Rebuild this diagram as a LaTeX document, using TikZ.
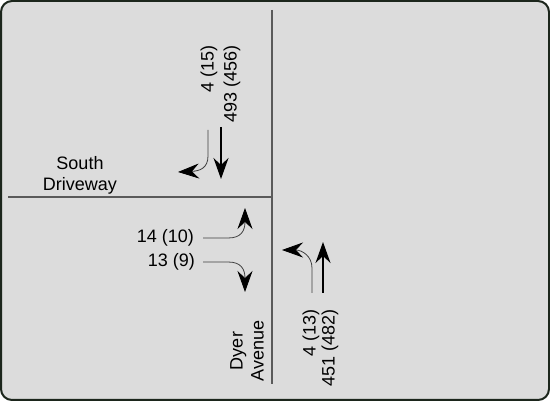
\documentclass[tikz,border=0pt]{standalone}
\usepackage{fontspec}
\setmainfont{Liberation Sans}
\usetikzlibrary{arrows.meta}
\definecolor{bgc}{HTML}{DCDCDC}
\definecolor{framec}{HTML}{1C261C}
\definecolor{roadc}{HTML}{5A5A5A}
\tikzset{
  road/.style={draw=roadc, line width=1.4pt},
  tiphead/.style={-{Stealth[length=21pt,width=15pt,inset=7pt,color=black,fill=black]}},
  thru/.style={draw=black, line width=1.2pt, tiphead},
  turnarr/.style={draw=black!75, line width=0.8pt, tiphead},
  lbl/.style={inner sep=0pt, font=\fontsize{18}{21}\selectfont},
}
\begin{document}
\begin{tikzpicture}[x=1pt,y=-1pt]
\useasboundingbox (0,0) rectangle (550,401);
\draw[fill=bgc, draw=framec, line width=2pt, rounded corners=11pt] (1,1) rectangle (549,400);
% roads
\coordinate (vtop) at (272,10);
\coordinate (vbot) at (272,384);
\coordinate (hleft) at (8,197);
\coordinate (hmid) at (272,197);
\draw[road] (vtop) -- (vbot);
\draw[road] (hleft) -- (hmid);
% labels
\node[lbl, align=center] (sd) at (80,175) {South\\Driveway};
\node[lbl, align=center, rotate=90] (da) at (247,351) {Dyer\\Avenue};
\node[lbl, rotate=90, anchor=east] (sl) at (209,45) {4 (15)};
\node[lbl, rotate=90, anchor=east] (st) at (232,45) {493 (456)};
\node[lbl, anchor=east] (el) at (194,238) {14 (10)};
\node[lbl, anchor=east] (er) at (195,262) {13 (9)};
\node[lbl, rotate=90, anchor=east] (nl) at (311,309) {4 (13)};
\node[lbl, rotate=90, anchor=east] (nt) at (330,309) {451 (482)};
% arrow end points
\coordinate (s1a) at (208,130); \coordinate (s1b) at (178,172);
\coordinate (s2a) at (221,127); \coordinate (s2b) at (221,179);
\coordinate (e1a) at (203,238); \coordinate (e1b) at (245,208);
\coordinate (e2a) at (203,262); \coordinate (e2b) at (245,292);
\coordinate (n1a) at (312,293); \coordinate (n1b) at (282,250);
\coordinate (n2a) at (323,293); \coordinate (n2b) at (323,242);
% arrows
\draw[turnarr] (s1a) -- (208,156) .. controls (208,168) and (200,171) .. (s1b);
\draw[thru] (s2a) -- (s2b);
\draw[turnarr] (e1a) -- (228,238) .. controls (241,238) and (245,231) .. (e1b);
\draw[turnarr] (e2a) -- (228,262) .. controls (241,262) and (245,269) .. (e2b);
\draw[turnarr] (n1a) -- (312,268) .. controls (312,256) and (302,250) .. (n1b);
\draw[thru] (n2a) -- (n2b);
\end{tikzpicture}
\end{document}
